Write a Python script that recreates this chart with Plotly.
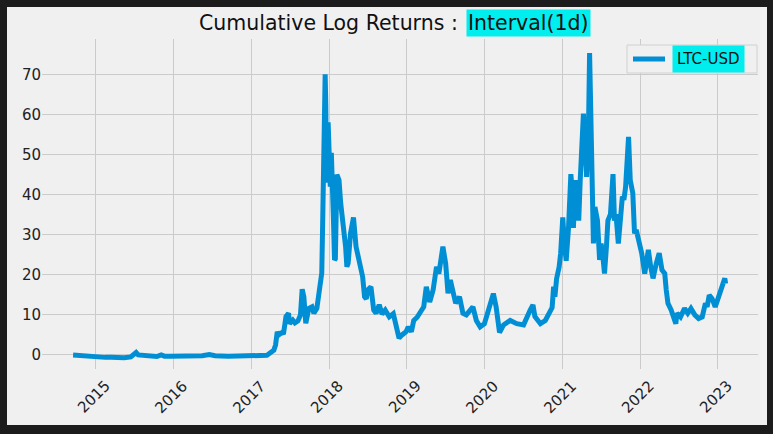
import plotly.graph_objects as go

# ---- data ----
dates = [
    "2014-09-17", "2014-10-15", "2014-11-15", "2014-12-15", "2015-01-14", "2015-02-15",
    "2015-03-15", "2015-04-15", "2015-05-15", "2015-06-15", "2015-07-10", "2015-07-20",
    "2015-08-15", "2015-09-15", "2015-10-15", "2015-11-05", "2015-11-20", "2015-12-15",
    "2016-01-15", "2016-03-15", "2016-05-15", "2016-06-18", "2016-07-15", "2016-09-15",
    "2016-11-15", "2017-01-05", "2017-02-15", "2017-03-15", "2017-03-30", "2017-04-17",
    "2017-04-25", "2017-05-03", "2017-05-10", "2017-05-25", "2017-06-01", "2017-06-13",
    "2017-06-25", "2017-06-30", "2017-07-15", "2017-07-25", "2017-08-08", "2017-08-20",
    "2017-08-28", "2017-09-05", "2017-09-14", "2017-09-20", "2017-09-28", "2017-10-13",
    "2017-10-22", "2017-11-05", "2017-11-13", "2017-11-21", "2017-11-28", "2017-12-02",
    "2017-12-06", "2017-12-09", "2017-12-11", "2017-12-14", "2017-12-17", "2017-12-20",
    "2017-12-24", "2017-12-28", "2018-01-01", "2018-01-04", "2018-01-07", "2018-01-12",
    "2018-01-16", "2018-01-22", "2018-01-27", "2018-01-31", "2018-02-07", "2018-02-17",
    "2018-02-25", "2018-03-04", "2018-03-12", "2018-03-20", "2018-03-26", "2018-04-01",
    "2018-04-12", "2018-04-26", "2018-05-08", "2018-05-19", "2018-06-01", "2018-06-08",
    "2018-06-17", "2018-06-25", "2018-07-02", "2018-07-17", "2018-07-30", "2018-08-10",
    "2018-08-25", "2018-09-07", "2018-09-22", "2018-10-11", "2018-10-30", "2018-11-14",
    "2018-11-26", "2018-12-10", "2018-12-29", "2019-01-08", "2019-01-23", "2019-02-03",
    "2019-02-19", "2019-03-11", "2019-03-22", "2019-04-03", "2019-04-19", "2019-05-05",
    "2019-05-21", "2019-06-01", "2019-06-13", "2019-06-20", "2019-07-03", "2019-07-14",
    "2019-07-25", "2019-08-06", "2019-08-19", "2019-09-06", "2019-09-22", "2019-10-08",
    "2019-10-27", "2019-11-08", "2019-11-24", "2019-12-12", "2020-01-01", "2020-01-20",
    "2020-01-29", "2020-02-12", "2020-02-25", "2020-03-12", "2020-03-31", "2020-05-01",
    "2020-06-01", "2020-07-03", "2020-08-03", "2020-08-16", "2020-08-25", "2020-09-20",
    "2020-10-13", "2020-10-29", "2020-11-14", "2020-11-21", "2020-11-27", "2020-12-05",
    "2020-12-17", "2020-12-24", "2021-01-03", "2021-01-10", "2021-01-19", "2021-01-30",
    "2021-02-10", "2021-02-15", "2021-02-22", "2021-03-03", "2021-03-12", "2021-03-19",
    "2021-03-26", "2021-04-04", "2021-04-10", "2021-04-25", "2021-05-03", "2021-05-09",
    "2021-05-13", "2021-05-16", "2021-05-19", "2021-05-27", "2021-06-03", "2021-06-15",
    "2021-06-25", "2021-07-02", "2021-07-09", "2021-07-18", "2021-07-27", "2021-08-03",
    "2021-08-15", "2021-08-27", "2021-09-03", "2021-09-10", "2021-09-21", "2021-09-30",
    "2021-10-10", "2021-10-17", "2021-10-25", "2021-11-08", "2021-11-16", "2021-11-28",
    "2021-12-06", "2021-12-14", "2021-12-25", "2022-01-01", "2022-01-09", "2022-01-23",
    "2022-02-09", "2022-02-20", "2022-03-03", "2022-03-18", "2022-04-01", "2022-04-14",
    "2022-04-27", "2022-05-04", "2022-05-12", "2022-05-27", "2022-06-18", "2022-06-23",
    "2022-07-10", "2022-07-29", "2022-08-13", "2022-08-28", "2022-09-15", "2022-10-03",
    "2022-10-20", "2022-11-04", "2022-11-12", "2022-11-22", "2022-12-05", "2022-12-20",
    "2023-01-09", "2023-01-23", "2023-02-03", "2023-02-07",
]
ltc_usd = [
    0.0, -0.1, -0.2, -0.3, -0.7, -0.6,
    -0.6, -0.7, -0.7, -0.5, 0.6, 0.0,
    -0.2, -0.4, -0.4, 0.0, -0.3, -0.3,
    -0.3, -0.4, -0.2, 0.1, -0.2, -0.3,
    -0.3, -0.2, -0.2, -0.1, 0.5, 1.2,
    2.5, 5.8, 5.0, 5.6, 5.2, 9.6,
    10.4, 7.8, 8.7, 8.0, 8.5, 10.0,
    16.4, 14.5, 7.9, 9.6, 11.6, 12.0,
    10.4, 11.6, 15.4, 18.7, 20.4, 32.0,
    50.0, 61.0, 55.0, 70.0, 62.0, 43.0,
    50.0, 58.0, 53.0, 47.0, 42.0, 50.4,
    36.0, 33.7, 23.7, 24.0, 45.0, 43.6,
    37.8, 34.5, 32.0, 27.0, 22.0, 22.9,
    30.3, 34.3, 27.0, 24.0, 21.0, 19.5,
    14.5, 14.0, 16.2, 17.0, 11.2, 10.4,
    12.5, 10.2, 11.2, 9.5, 10.3, 6.2,
    4.2, 5.0, 5.8, 7.0, 5.8, 8.6,
    9.4, 11.1, 12.0, 17.0, 13.2, 16.2,
    22.0, 20.3, 26.2, 27.0, 22.8, 15.4,
    18.7, 16.2, 12.9, 14.5, 10.4, 10.0,
    11.2, 12.0, 8.6, 7.0, 7.8, 11.0,
    12.9, 15.3, 12.0, 5.6, 7.5, 8.6,
    7.8, 7.5, 11.2, 12.5, 9.6, 7.8,
    8.6, 10.2, 11.8, 17.0, 14.5, 19.0,
    22.0, 25.3, 34.3, 28.4, 23.5, 31.7,
    45.1, 41.8, 31.7, 43.6, 36.9, 33.5,
    43.6, 51.0, 60.2, 44.4, 53.5, 75.3,
    62.0, 53.5, 39.5, 27.8, 36.9, 33.5,
    23.7, 27.8, 25.3, 20.3, 26.9, 33.5,
    35.1, 45.1, 33.5, 35.1, 27.8, 33.5,
    39.5, 38.7, 41.8, 54.4, 43.6, 40.3,
    30.3, 31.2, 28.5, 27.8, 25.3, 20.3,
    26.2, 22.0, 19.1, 22.8, 25.4, 21.2,
    20.3, 16.2, 12.9, 11.2, 7.8, 10.4,
    9.5, 11.6, 10.4, 11.6, 10.0, 9.1,
    9.5, 12.9, 12.0, 14.9, 14.1, 12.0,
    15.3, 17.5, 19.1, 17.8,
]
series_name = "LTC-USD"
title_main = "Cumulative Log Returns : "
title_interval = "Interval(1d)"
y_ticks = [0, 10, 20, 30, 40, 50, 60, 70]
x_tick_dates = ["2015-01-01", "2016-01-01", "2017-01-01", "2018-01-01", "2019-01-01",
                "2020-01-01", "2021-01-01", "2022-01-01", "2023-01-01"]
x_tick_labels = ["2015", "2016", "2017", "2018", "2019", "2020", "2021", "2022", "2023"]

# ---- layout geometry (pixels) ----
W, H = 773, 434
L, R, T, B = 42, 758, 39, 369
pw, ph = R - L, B - T


def px(x):
    return (x - L) / pw


def py(y):
    return (B - y) / ph


FONT = "DejaVu Sans"
BG = "#f0f0f0"
FRAME = "#1c1c1c"
LINE = "#008fd5"
CYAN = "#00eeee"
TXT = "#222222"

fig = go.Figure()
fig.add_trace(go.Scatter(x=dates, y=ltc_usd, mode="lines", name=series_name,
                         line=dict(color=LINE, width=5), showlegend=False))

shapes = [
    dict(type="rect", xref="paper", yref="paper", x0=px(7), x1=px(767), y0=py(425), y1=py(7),
         fillcolor=BG, line=dict(width=0), layer="below"),
    dict(type="rect", xref="paper", yref="paper", x0=px(627), x1=px(757), y0=py(73), y1=py(45),
         fillcolor=BG, line=dict(color="#d0d0d0", width=1), layer="above"),
    dict(type="line", xref="paper", yref="paper", x0=px(633), x1=px(665), y0=py(59), y1=py(59),
         line=dict(color=LINE, width=5), layer="above"),
]

annotations = [
    dict(text=title_main, xref="paper", yref="paper", x=px(466), y=py(23),
         xanchor="right", yanchor="middle", showarrow=False,
         font=dict(family=FONT, size=20.5, color="#111111")),
    dict(text=title_interval, xref="paper", yref="paper", x=px(466), y=py(23),
         xanchor="left", yanchor="middle", showarrow=False, bgcolor=CYAN, borderpad=1,
         font=dict(family=FONT, size=20.5, color="#111111")),
    dict(text=series_name, xref="paper", yref="paper", x=px(672), y=py(59),
         xanchor="left", yanchor="middle", showarrow=False, bgcolor=CYAN, borderpad=4,
         font=dict(family=FONT, size=15, color="#111111")),
]
for d, lab in zip(x_tick_dates, x_tick_labels):
    annotations.append(dict(text=lab, x=d, xref="x", y=py(397), yref="paper",
                            xanchor="center", yanchor="middle", textangle=-45,
                            showarrow=False, xshift=-2,
                            font=dict(family=FONT, size=15, color=TXT)))

fig.update_layout(
    width=W, height=H,
    margin=dict(l=L, r=W - R, t=T, b=H - B, pad=0),
    paper_bgcolor=FRAME, plot_bgcolor=BG,
    shapes=shapes, annotations=annotations,
    xaxis=dict(type="date", range=["2014-04-24", "2023-07-09"],
               tickvals=x_tick_dates, showticklabels=False,
               showgrid=True, gridcolor="#cbcbcb", gridwidth=1.3,
               zeroline=False, showline=False, ticks=""),
    yaxis=dict(range=[-3.5, 78.8], tickvals=y_ticks,
               showgrid=True, gridcolor="#cbcbcb", gridwidth=1.3,
               zeroline=False, showline=False, ticks="",
               tickfont=dict(family=FONT, size=15, color=TXT)),
    font=dict(family=FONT),
)

fig.write_html("out.html", config={"displayModeBar": False},
               post_script="document.body.style.margin='0';")
